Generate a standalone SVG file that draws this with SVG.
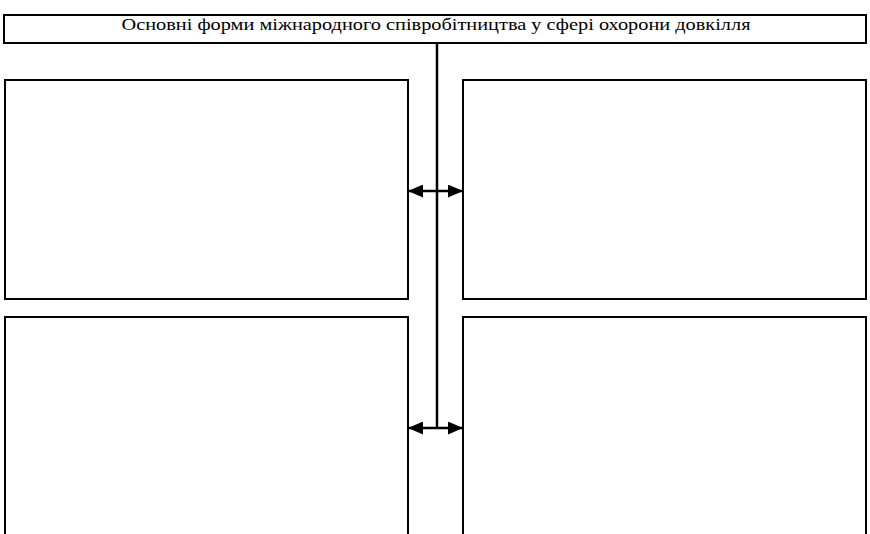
<svg xmlns="http://www.w3.org/2000/svg" width="870" height="534" viewBox="0 0 870 534">
<style>
.box{fill:#fff;stroke:#000;stroke-width:2}
.ln{stroke:#000;stroke-width:2.5;fill:none}
.ttl{font-family:"Liberation Serif","Times New Roman",serif;font-size:17px;fill:#000}
</style>
<defs>
<marker id="ah" viewBox="0 0 15 13" refX="14" refY="6.5" markerWidth="15" markerHeight="13" markerUnits="userSpaceOnUse" orient="auto-start-reverse">
<path d="M0,0 L15,6.5 L0,13 Z" fill="#000"/>
</marker>
</defs>
<rect width="870" height="534" fill="#fff"/>
<g id="connectors">
<line class="ln" x1="437" y1="43" x2="437" y2="428"/>
<line class="ln" x1="409" y1="191" x2="462" y2="191" marker-start="url(#ah)" marker-end="url(#ah)"/>
<line class="ln" x1="409" y1="428" x2="462" y2="428" marker-start="url(#ah)" marker-end="url(#ah)"/>
</g>
<g id="title">
<rect class="box" x="4" y="15" width="862" height="28"/>
<text class="ttl" x="436" y="30" text-anchor="middle" textLength="629" lengthAdjust="spacingAndGlyphs">Основні форми міжнародного співробітництва у сфері охорони довкілля</text>
</g>
<g id="box-top-left"><rect class="box" x="5" y="80" width="403" height="219"/></g>
<g id="box-top-right"><rect class="box" x="463" y="80" width="403" height="219"/></g>
<g id="box-bottom-left"><rect class="box" x="5" y="317" width="403" height="240"/></g>
<g id="box-bottom-right"><rect class="box" x="463" y="317" width="403" height="240"/></g>
</svg>
